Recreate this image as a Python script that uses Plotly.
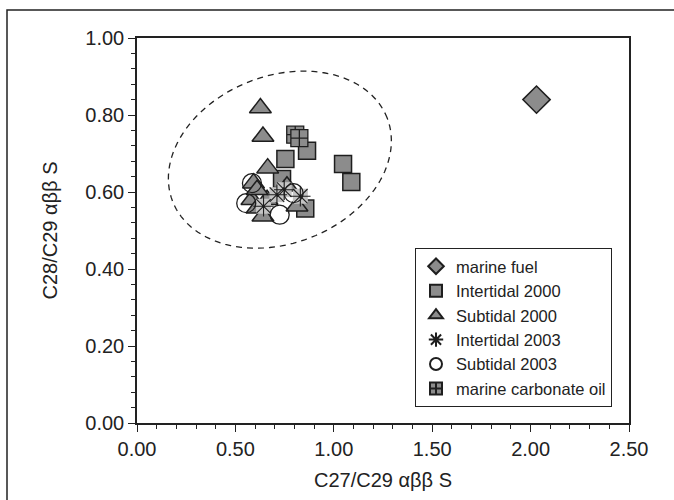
import numpy as np
import plotly.graph_objects as go

# ---------------- data ----------------
fuel_x = [2.03]
fuel_y = [0.84]

int2000_x = [0.864, 0.754, 1.047, 1.089, 0.737, 0.855]
int2000_y = [0.707, 0.686, 0.673, 0.626, 0.634, 0.557]

sub2000_x = [0.627, 0.640, 0.664, 0.592, 0.584, 0.610, 0.640, 0.661, 0.813, 0.610, 0.762]
sub2000_y = [0.818, 0.744, 0.662, 0.623, 0.580, 0.558, 0.537, 0.580, 0.563, 0.606, 0.615]

int2003_x = [0.711, 0.748, 0.830, 0.643]
int2003_y = [0.593, 0.606, 0.589, 0.563]

sub2003_x = [0.584, 0.555, 0.725, 0.796]
sub2003_y = [0.623, 0.571, 0.541, 0.597]

oil_x = [0.804, 0.825]
oil_y = [0.749, 0.740]

x_ticks = [0.0, 0.5, 1.0, 1.5, 2.0, 2.5]
y_ticks = [0.0, 0.2, 0.4, 0.6, 0.8, 1.0]

# dashed envelope (centre in data units, semi-axes in pixels, tilt in degrees)
ell_cx, ell_cy = 0.726, 0.684
ell_a_px, ell_b_px, ell_tilt = 115.1, 83.8, 21.2

# ---------------- layout geometry ----------------
W, H = 674, 500
ML, MR, MT, MB = 137, 45, 38, 77
plot_w = W - ML - MR
plot_h = H - MT - MB
x_range = [0, 2.5]
y_range = [0, 1.0]
px_x = plot_w / (x_range[1] - x_range[0])
px_y = plot_h / (y_range[1] - y_range[0])

FILL = "#8c8c8c"
EDGE = "#1e1e1e"
FONT = "Liberation Sans, Arial, Helvetica, sans-serif"

fig = go.Figure()

fig.add_trace(go.Scatter(
    x=fuel_x, y=fuel_y, mode="markers", name="marine fuel",
    marker=dict(symbol="diamond", size=21, color=FILL, line=dict(color=EDGE, width=1.5))))

fig.add_trace(go.Scatter(
    x=int2000_x, y=int2000_y, mode="markers", name="Intertidal 2000",
    marker=dict(symbol="square", size=17, color=FILL, line=dict(color=EDGE, width=1.5))))

fig.add_trace(go.Scatter(
    x=sub2000_x, y=sub2000_y, mode="markers", name="Subtidal 2000",
    marker=dict(symbol="triangle-up", size=19, color=FILL, line=dict(color=EDGE, width=1.5))))

# light square backing of the star markers
fig.add_trace(go.Scatter(
    x=int2003_x, y=int2003_y, mode="markers", showlegend=False, hoverinfo="skip",
    marker=dict(symbol="square", size=15, color="#c4c4c4", line=dict(width=0))))

fig.add_trace(go.Scatter(
    x=int2003_x, y=int2003_y, mode="markers", name="Intertidal 2003",
    marker=dict(symbol="asterisk-open", size=17, color=EDGE, line=dict(color=EDGE, width=1.1))))

fig.add_trace(go.Scatter(
    x=sub2003_x, y=sub2003_y, mode="markers", name="Subtidal 2003",
    marker=dict(symbol="circle-open", size=19, color=EDGE, line=dict(color=EDGE, width=1.3))))

fig.add_trace(go.Scatter(
    x=oil_x, y=oil_y, mode="markers", name="marine carbonate oil",
    marker=dict(symbol="square-cross", size=17, color=FILL, line=dict(color=EDGE, width=1.3))))

# dashed ellipse path
t = np.linspace(0, 2 * np.pi, 121)
phi = np.deg2rad(ell_tilt)
ex = ell_cx + (ell_a_px * np.cos(t) * np.cos(phi) - ell_b_px * np.sin(t) * np.sin(phi)) / px_x
ey = ell_cy + (ell_a_px * np.cos(t) * np.sin(phi) + ell_b_px * np.sin(t) * np.cos(phi)) / px_y
path = "M " + " L ".join(f"{a:.5f},{b:.5f}" for a, b in zip(ex, ey)) + " Z"
fig.add_shape(type="path", path=path, xref="x", yref="y",
              line=dict(color="#222222", width=1.3, dash="6px,5px"), layer="below")

# outer frame of the figure panel
fig.add_shape(type="rect", xref="paper", yref="paper",
              x0=(7 - ML) / plot_w, x1=1.3,
              y0=-0.4, y1=1 + (MT - 10) / plot_h,
              line=dict(color="#222222", width=1.5), layer="below")

axis_common = dict(
    showgrid=False, zeroline=False, showline=True, linecolor="#222222", linewidth=1.5,
    mirror=True, ticks="outside", ticklen=7, tickwidth=1.3, tickcolor="#222222",
    tickformat=".2f", tickfont=dict(family=FONT, size=20, color="#222222"),
)

fig.update_xaxes(range=x_range, tickvals=x_ticks,
                 minor=dict(ticks="outside", ticklen=4, dtick=0.1, tickcolor="#222222", tickwidth=1.2),
                 title=dict(text="C27/C29 αββ S", font=dict(family=FONT, size=20, color="#222222"), standoff=14),
                 **axis_common)
fig.update_yaxes(range=y_range, tickvals=y_ticks,
                 minor=dict(ticks="outside", ticklen=4, dtick=0.04, tickcolor="#222222", tickwidth=1.2),
                 title=dict(text="C28/C29 αββ S", font=dict(family=FONT, size=20, color="#222222"), standoff=22),
                 **axis_common)

fig.update_layout(
    width=W, height=H,
    margin=dict(l=ML, r=MR, t=MT, b=MB),
    paper_bgcolor="white", plot_bgcolor="white",
    showlegend=True,
    legend=dict(
        x=(612 - ML) / plot_w, y=(H - MB - 327.5) / plot_h, xanchor="right", yanchor="middle",
        bgcolor="white", bordercolor="#222222", borderwidth=1,
        font=dict(family=FONT, size=16.5, color="#222222"),
        itemsizing="constant", tracegroupgap=0,
    ),
)

fig.write_html("out.html")
